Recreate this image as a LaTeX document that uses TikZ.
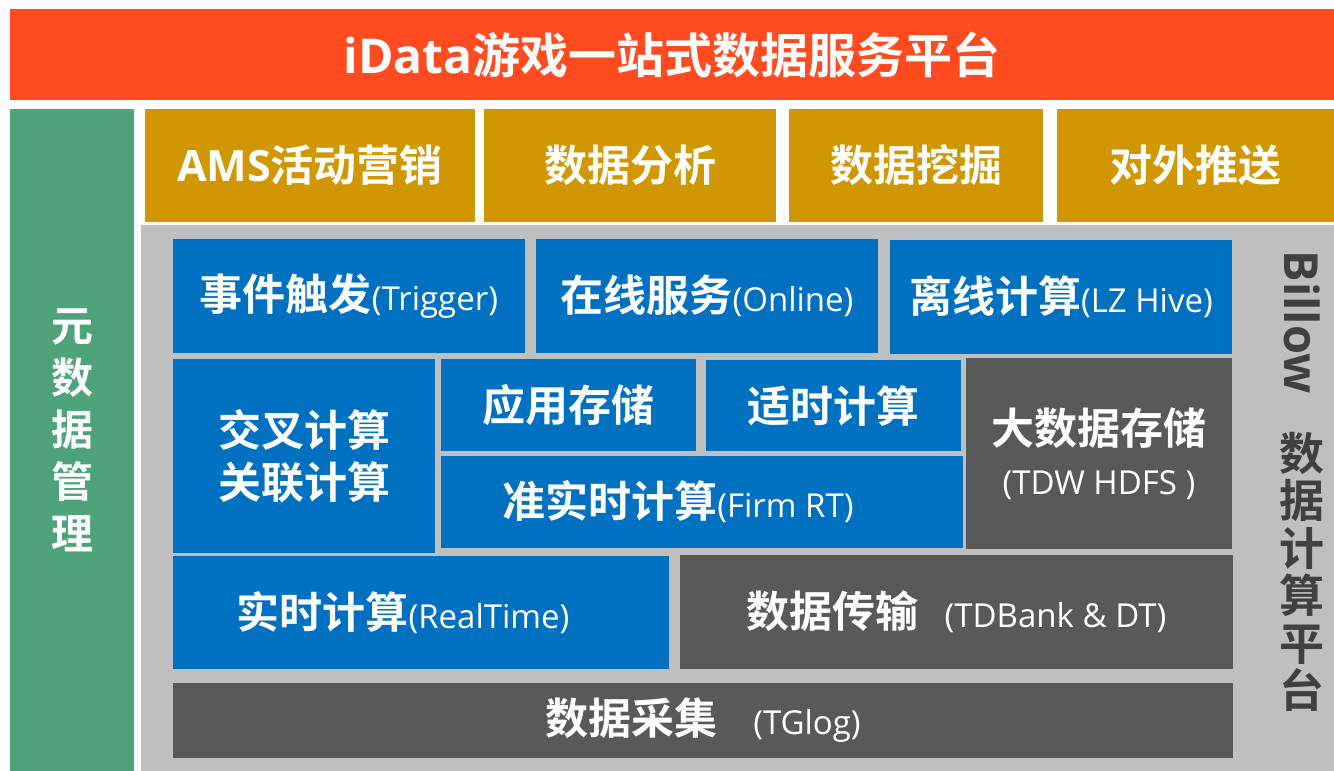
\documentclass[tikz,border=0pt]{standalone}
\usepackage{fontspec}
\setmainfont{Open Sans}
\newfontfamily\cjk{Noto Sans CJK SC}[BoldFont={* Bold}]
\definecolor{cRed}{HTML}{FF4B1F}
\definecolor{cGreen}{HTML}{4EA37A}
\definecolor{cGold}{HTML}{D09700}
\definecolor{cBlue}{HTML}{0070C0}
\definecolor{cDark}{HTML}{595959}
\definecolor{cGray}{HTML}{BFBFBF}
\definecolor{cText}{HTML}{404040}
\newcommand{\zh}[1]{{\cjk\bfseries #1}}
\newcommand{\en}[1]{{\fontsize{33}{38}\selectfont #1}}
\tikzset{
  blk/.style={anchor=north west, inner sep=0pt, outer sep=0pt, text=white,
    font=\fontsize{43}{52}\selectfont, align=center},
}
\newcommand{\blkbox}[7]{\node[blk, fill=#6, minimum width=#4pt-#2pt, minimum height=#5pt-#3pt] (#1) at (#2,#3) {#7};}
\begin{document}
\begin{tikzpicture}[x=1pt,y=-1pt]
\useasboundingbox (0,0) rectangle (1334,771);
\fill[white] (0,0) rectangle (1334,771);
% top banner
\blkbox{top}{10}{9}{1334}{100}{cRed}{\fontsize{48}{54}\selectfont\bfseries iData\zh{游戏一站式数据服务平台}}
% left green
\node[blk, fill=cGreen, minimum width=124pt, minimum height=662pt] (meta) at (10,109) {};
\node[text=white, font=\fontsize{42}{52}\selectfont, align=center, inner sep=0pt] (metatxt) at (72,430) {\zh{元}\\\zh{数}\\\zh{据}\\\zh{管}\\\zh{理}};
% gold row
\blkbox{ams}{145}{109}{475}{222}{cGold}{\bfseries AMS\zh{活动营销}}
\blkbox{ana}{484}{109}{776}{222}{cGold}{\zh{数据分析}}
\blkbox{mine}{789}{109}{1043}{222}{cGold}{\zh{数据挖掘}}
\blkbox{push}{1057}{109}{1334}{222}{cGold}{\zh{对外推送}}
% gray platform
\node[blk, fill=cGray, minimum width=1193pt, minimum height=546pt] (billow) at (141,225) {};
% row 1
\blkbox{trig}{173}{239}{525}{353}{cBlue}{\zh{事件触发}\en{(Trigger)}}
\blkbox{onl}{536}{239}{878}{353}{cBlue}{\zh{在线服务}\en{(Online)}}
\blkbox{off}{890}{240}{1232}{354}{cBlue}{\zh{离线计算}\en{(LZ Hive)}}
% row 2
\blkbox{cross}{173}{359}{435}{553}{cBlue}{\raisebox{4pt}{\zh{交叉计算}}\\[-4pt]\zh{关联计算}}
\blkbox{app}{441}{359}{696}{451}{cBlue}{\zh{应用存储}}
\blkbox{timely}{706}{360}{961}{451}{cBlue}{\zh{适时计算}}
\blkbox{firm}{441}{456}{963}{548}{cBlue}{\raisebox{-4pt}{\zh{准实时计算}\en{(Firm RT)}}\hspace*{48pt}}
\blkbox{big}{966}{358}{1232}{549}{cDark}{\zh{大数据存储}\\[-2pt]\en{(TDW HDFS )}}
% row 3
\blkbox{rt}{173}{556}{669}{669}{cBlue}{\raisebox{-4pt}{\zh{实时计算}\en{(RealTime)}}\hspace*{36pt}}
\blkbox{trans}{680}{555}{1233}{669}{cDark}{\raisebox{-4pt}{\zh{数据传输}\hspace{26pt}\en{(TDBank \& DT)}}}
% row 4
\blkbox{coll}{173}{683}{1233}{758}{cDark}{\raisebox{-2pt}{\zh{数据采集}\hspace{36pt}\en{(TGlog)}}}
% vertical platform label
\node[text=cText, rotate=-90, inner sep=0pt, font=\fontsize{47}{52}\selectfont\bfseries] (billowtxt) at (1302,322) {Billow};
\node[text=cText, inner sep=0pt, align=center, font=\fontsize{45}{47.5}\selectfont] (plat) at (1302,572) {\zh{数}\\\zh{据}\\\zh{计}\\\zh{算}\\\zh{平}\\\zh{台}};
\end{tikzpicture}
\end{document}
